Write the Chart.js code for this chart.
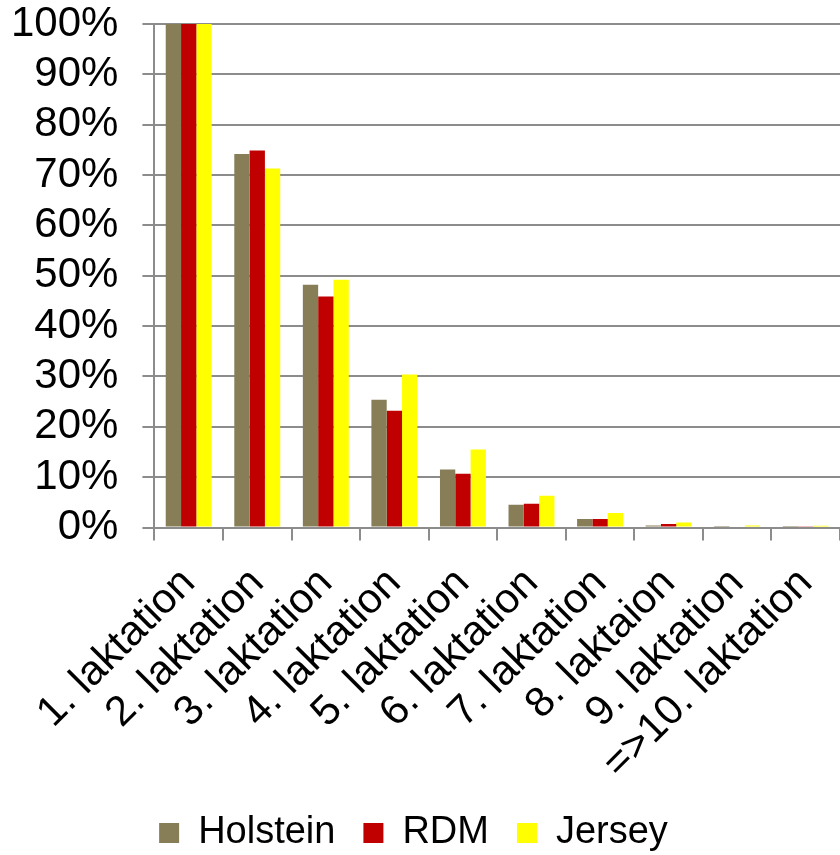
<!DOCTYPE html>
<html>
<head>
<meta charset="utf-8">
<script src="https://cdn.jsdelivr.net/npm/chart.js@4/dist/chart.umd.min.js"></script>
<style>
  html, body { margin: 0; padding: 0; background: #fff; }
  #wrap { width: 840px; height: 855px; position: relative; }
</style>
</head>
<body>
<div id="wrap"><canvas id="c"></canvas></div>
<script>
const categories = ["1. laktation", "2. laktation", "3. laktation", "4. laktation", "5. laktation",
  "6. laktation", "7. laktation", "8. laktaion", "9. laktation", "=>10. laktation"];
const holstein = [100, 74.2, 48.2, 25.4, 11.5, 4.5, 1.7, 0.4, 0.1, 0.05];
const rdm      = [100, 74.9, 45.9, 23.2, 10.7, 4.7, 1.7, 0.7, 0.2, 0.15];
const jersey   = [100, 71.3, 49.2, 30.4, 15.5, 6.3, 2.9, 1.0, 0.4, 0.35];
const yTicks = [0, 10, 20, 30, 40, 50, 60, 70, 80, 90, 100];

const FONT = "'Liberation Sans', Arial, sans-serif";
const GRID = '#8c8c8c';

new Chart(document.getElementById('c'), {
  type: 'bar',
  data: {
    labels: categories,
    datasets: [
      { label: 'Holstein', data: holstein, backgroundColor: '#877E57' },
      { label: 'RDM', data: rdm, backgroundColor: '#C00000' },
      { label: 'Jersey', data: jersey, backgroundColor: '#FFFF00' }
    ]
  },
  options: {
    responsive: true,
    maintainAspectRatio: false,
    animation: false,
    datasets: { bar: { categoryPercentage: 0.67, barPercentage: 1.0, borderWidth: 0 } },
    layout: { padding: { left: -13, right: 0, top: 24, bottom: -7 } },
    plugins: {
      tooltip: { enabled: false },
      legend: {
        position: 'bottom',
        labels: {
          font: { family: FONT, size: 38 },
          color: '#000',
          boxWidth: 20,
          boxHeight: 20,
          padding: 28
        }
      }
    },
    scales: {
      x: {
        afterFit: (s) => { s.paddingLeft = 0; s.paddingRight = 0; s.height = s.height - 21; },
        grid: { display: true, drawOnChartArea: false, drawTicks: true, tickLength: 13, color: GRID, lineWidth: 2, offset: true },
        border: { display: true, color: GRID, width: 2 },
        ticks: {
          font: { family: FONT, size: 42 },
          color: '#000',
          minRotation: 45,
          maxRotation: 45,
          autoSkip: false,
          padding: 18
        }
      },
      y: {
        min: 0,
        max: 100,
        afterFit: (s) => { s.paddingTop = 0; s.paddingBottom = 0; },
        afterBuildTicks: (axis) => { axis.ticks = yTicks.map(v => ({ value: v })); },
        grid: { color: GRID, lineWidth: 2, tickLength: 12 },
        border: { display: true, color: GRID, width: 2 },
        ticks: {
          font: { family: FONT, size: 42 },
          color: '#000',
          padding: 24,
          autoSkip: false,
          callback: (v) => v + '%'
        }
      }
    }
  }
});
</script>
</body>
</html>
